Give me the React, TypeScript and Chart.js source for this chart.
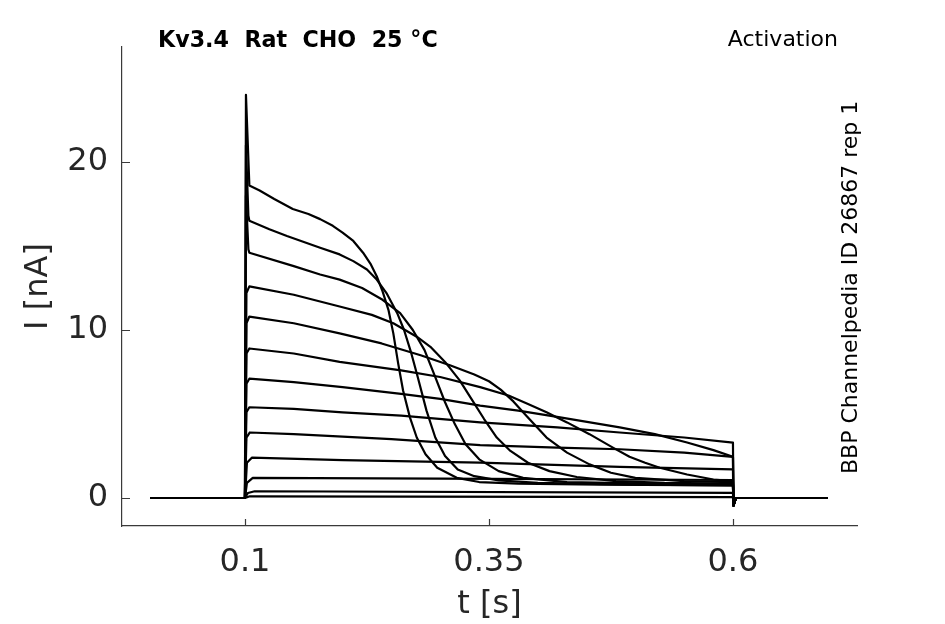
import { useEffect, useRef } from "react"
import { Chart, registerables } from "chart.js"

Chart.register(...registerables)

// sweep timing [s]
const holdStart = 0.003
const stepOff = 0.6
const holdEnd = 0.697

const xTicks = [0.1, 0.35, 0.6]
const yTicks = [0, 10, 20]

// current during the step, [t, I] pairs (largest step first)
const sweep01: [number, number][] = [
    [0.1, 0], [0.101, 24.0], [0.1045, 18.6], [0.115, 18.3], [0.13, 17.8], [0.149, 17.2],
    [0.165, 16.9], [0.177, 16.6], [0.19, 16.2], [0.2, 15.8], [0.211, 15.3], [0.221, 14.6],
    [0.229, 13.9], [0.235, 13.2], [0.241, 12.3], [0.247, 11.2], [0.252, 9.8], [0.257, 8.0],
    [0.262, 6.4], [0.269, 4.8], [0.276, 3.6], [0.285, 2.6], [0.297, 1.8], [0.317, 1.2],
    [0.34, 0.95], [0.38, 0.85], [0.464, 0.8], [0.6, 0.75],
]
const sweep02: [number, number][] = [
    [0.1, 0], [0.101, 21.0], [0.1035, 16.8], [0.1045, 16.5], [0.125, 16.0], [0.143, 15.6],
    [0.177, 14.9], [0.197, 14.5], [0.211, 14.1], [0.225, 13.6], [0.235, 13.0], [0.245, 12.2],
    [0.256, 11.0], [0.263, 10.0], [0.27, 8.7], [0.277, 7.2], [0.286, 5.2], [0.295, 3.6],
    [0.305, 2.5], [0.318, 1.7], [0.335, 1.3], [0.36, 1.05], [0.4, 0.9], [0.5, 0.8], [0.6, 0.75],
]
const sweep03: [number, number][] = [
    [0.1, 0], [0.101, 18.0], [0.1035, 14.8], [0.1045, 14.6], [0.15, 13.8], [0.177, 13.3],
    [0.197, 13.0], [0.22, 12.5], [0.241, 11.8], [0.259, 11.0], [0.272, 10.0], [0.284, 8.8],
    [0.295, 7.2], [0.305, 5.7], [0.315, 4.4], [0.326, 3.2], [0.34, 2.3], [0.36, 1.6],
    [0.385, 1.2], [0.43, 0.95], [0.52, 0.85], [0.6, 0.8],
]
const sweep04: [number, number][] = [
    [0.1, 0], [0.1015, 12.2], [0.1045, 12.6], [0.15, 12.1], [0.197, 11.4], [0.23, 10.9],
    [0.252, 10.4], [0.276, 9.6], [0.29, 9.0], [0.305, 8.1], [0.32, 7.0], [0.332, 5.9],
    [0.345, 4.7], [0.358, 3.6], [0.372, 2.8], [0.39, 2.1], [0.412, 1.6], [0.44, 1.25],
    [0.48, 1.0], [0.53, 0.9], [0.6, 0.85],
]
const sweep05: [number, number][] = [
    [0.1, 0], [0.1015, 10.4], [0.1045, 10.8], [0.15, 10.4], [0.197, 9.8], [0.24, 9.2],
    [0.28, 8.5], [0.31, 7.9], [0.335, 7.35], [0.35, 6.95], [0.362, 6.45], [0.375, 5.75],
    [0.389, 4.85], [0.409, 3.6], [0.43, 2.7], [0.453, 2.0], [0.475, 1.5], [0.5, 1.2],
    [0.55, 1.0], [0.6, 0.95],
]
const sweep06: [number, number][] = [
    [0.1, 0], [0.1015, 8.6], [0.1045, 8.9], [0.15, 8.6], [0.197, 8.1], [0.26, 7.6],
    [0.3, 7.2], [0.341, 6.6], [0.37, 6.1], [0.39, 5.6], [0.409, 5.1], [0.43, 4.5],
    [0.453, 3.8], [0.477, 3.0], [0.494, 2.45], [0.51, 2.1], [0.525, 1.8], [0.553, 1.4],
    [0.58, 1.1], [0.6, 1.0],
]
const sweep07: [number, number][] = [
    [0.1, 0], [0.1015, 6.8], [0.1045, 7.1], [0.15, 6.9], [0.2, 6.6], [0.26, 6.2],
    [0.3, 5.9], [0.341, 5.5], [0.38, 5.2], [0.423, 4.8], [0.484, 4.2], [0.52, 3.8],
    [0.553, 3.3], [0.58, 2.85], [0.6, 2.45],
]
const sweep08: [number, number][] = [
    [0.1, 0], [0.1015, 5.1], [0.1045, 5.4], [0.15, 5.3], [0.2, 5.1], [0.26, 4.9],
    [0.341, 4.5], [0.42, 4.2], [0.484, 3.9], [0.55, 3.6], [0.6, 3.3],
]
const sweep09: [number, number][] = [
    [0.1, 0], [0.1015, 3.6], [0.105, 3.9], [0.15, 3.8], [0.25, 3.5], [0.341, 3.15],
    [0.42, 3.0], [0.484, 2.9], [0.55, 2.7], [0.6, 2.45],
]
const sweep10: [number, number][] = [
    [0.1, 0], [0.102, 2.1], [0.107, 2.4], [0.2, 2.25], [0.341, 2.1], [0.484, 1.85], [0.6, 1.7],
]
const sweep11: [number, number][] = [
    [0.1, 0], [0.102, 0.9], [0.108, 1.2], [0.3, 1.15], [0.6, 1.07],
]
const sweep12: [number, number][] = [
    [0.1, 0], [0.103, 0.3], [0.11, 0.4], [0.6, 0.3],
]
const sweep13: [number, number][] = [
    [0.1, 0], [0.105, 0.1], [0.6, 0.05],
]

const sweeps = [
    sweep01, sweep02, sweep03, sweep04, sweep05, sweep06, sweep07,
    sweep08, sweep09, sweep10, sweep11, sweep12, sweep13,
]

// tail current right after the step ends
const offDip = -0.45

const axisColor = "#3a3a3a"
const textColor = "#262626"
const font = "DejaVu Sans"

const annotations = {
    id: "annotations",
    afterDraw(chart: Chart) {
        const { ctx, chartArea, scales } = chart
        ctx.save()

        // inward tick marks
        ctx.strokeStyle = axisColor
        ctx.lineWidth = 1.2
        ctx.beginPath()
        for (const v of xTicks) {
            const px = Math.round(scales.x.getPixelForValue(v)) + 0.5
            ctx.moveTo(px, chartArea.bottom)
            ctx.lineTo(px, chartArea.bottom - 7)
        }
        for (const v of yTicks) {
            const py = Math.round(scales.y.getPixelForValue(v)) + 0.5
            ctx.moveTo(chartArea.left, py)
            ctx.lineTo(chartArea.left + 8, py)
        }
        ctx.stroke()

        ctx.fillStyle = "#000"
        ctx.textBaseline = "alphabetic"
        ctx.font = `bold 22.2px "${font}"`
        ctx.textAlign = "left"
        ctx.fillText("Kv3.4  Rat  CHO  25 °C", 158, 47)

        ctx.font = `22px "${font}"`
        ctx.textAlign = "right"
        ctx.fillText("Activation", 838, 46)

        ctx.translate(857, 474)
        ctx.rotate(-Math.PI / 2)
        ctx.textAlign = "left"
        ctx.font = `22px "${font}"`
        ctx.fillText("BBP Channelpedia ID 26867 rep 1", 0, 0)
        ctx.restore()
    },
}

export default function App() {
    const canvasRef = useRef<HTMLCanvasElement | null>(null)
    const chartRef = useRef<Chart | null>(null)

    useEffect(() => {
        if (!canvasRef.current) return
        if (chartRef.current) chartRef.current.destroy()

        const datasets = sweeps.map((sweep) => {
            const last = sweep[sweep.length - 1][1]
            const points = [
                { x: holdStart, y: 0 },
                ...sweep.map(([t, i]) => ({ x: t, y: i })),
                { x: stepOff, y: last },
                { x: stepOff + 0.0005, y: offDip },
                { x: stepOff + 0.003, y: 0 },
                { x: holdEnd, y: 0 },
            ]
            return {
                data: points,
                borderColor: "#000",
                borderWidth: 2.2,
                borderJoinStyle: "round" as const,
                pointRadius: 0,
                tension: 0,
                fill: false,
            }
        })

        chartRef.current = new Chart(canvasRef.current, {
            type: "line",
            data: { datasets },
            options: {
                animation: false,
                responsive: false,
                maintainAspectRatio: false,
                parsing: false,
                layout: { padding: { top: 47, right: 88, left: 0, bottom: 0 } },
                plugins: {
                    legend: { display: false },
                    tooltip: { enabled: false },
                },
                scales: {
                    x: {
                        type: "linear",
                        min: -0.026,
                        max: 0.7271,
                        grid: { display: false, drawTicks: false },
                        border: { display: true, color: axisColor, width: 1.2 },
                        afterBuildTicks: (s: any) => {
                            s.ticks = xTicks.map((v) => ({ value: v }))
                        },
                        afterFit: (s: any) => {
                            s.height = 98
                        },
                        ticks: {
                            color: textColor,
                            padding: 17,
                            maxRotation: 0,
                            font: { family: font, size: 32 },
                            callback: (v: any) => String(v),
                        },
                        title: {
                            display: true,
                            text: "t [s]",
                            color: textColor,
                            font: { family: font, size: 32 },
                            padding: { top: 0, bottom: 0 },
                        },
                    },
                    y: {
                        type: "linear",
                        min: -1.667,
                        max: 26.845,
                        grid: { display: false, drawTicks: false },
                        border: { display: true, color: axisColor, width: 1.2 },
                        afterBuildTicks: (s: any) => {
                            s.ticks = yTicks.map((v) => ({ value: v }))
                        },
                        afterFit: (s: any) => {
                            s.width = 122
                        },
                        ticks: {
                            color: textColor,
                            padding: 14,
                            font: { family: font, size: 32 },
                            callback: (v: any) => String(v),
                        },
                        title: {
                            display: true,
                            text: "I [nA]",
                            color: textColor,
                            font: { family: font, size: 32 },
                            padding: { top: 19, bottom: 0 },
                        },
                    },
                },
            },
            plugins: [annotations],
        })

        return () => {
            if (chartRef.current) {
                chartRef.current.destroy()
                chartRef.current = null
            }
        }
    }, [])

    return (
        <div style={{ position: "fixed", left: 0, top: 0, width: 945, height: 624, background: "#fff" }}>
            <canvas ref={canvasRef} width={945} height={624} style={{ width: 945, height: 624 }} />
        </div>
    )
}
